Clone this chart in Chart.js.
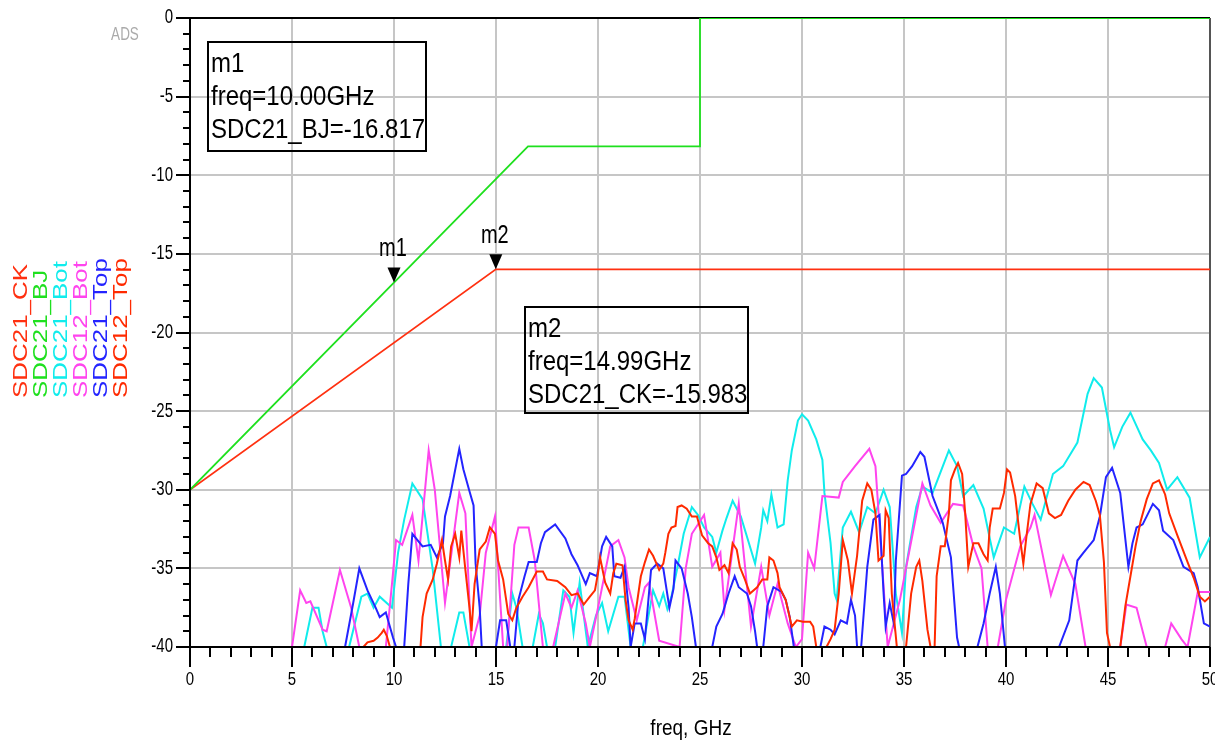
<!DOCTYPE html>
<html>
<head>
<meta charset="utf-8">
<script src="https://cdn.jsdelivr.net/npm/chart.js@4.4.0/dist/chart.umd.min.js"></script>
<style>
  html, body { margin: 0; padding: 0; background: #fff; }
  canvas { display: block; }
</style>
</head>
<body>
<canvas id="c" width="1215" height="743"></canvas>
<script>
// ADS plot: SDC21 / SDC12 vs freq

// ── Data ────────────────────────────────────────────────────────────────
const xTickLabels = ['0', '5', '10', '15', '20', '25', '30', '35', '40', '45', '50'];
const yTickLabels = ['0', '-5', '-10', '-15', '-20', '-25', '-30', '-35', '-40'];

const seriesNames  = ['SDC21_CK', 'SDC21_BJ', 'SDC21_Bot', 'SDC12_Bot', 'SDC21_Top', 'SDC12_Top'];
const seriesColors = ['#ff3010', '#1ee01e', '#10ecec', '#ff44ee', '#2424ff', '#ff2a00'];

// [freq GHz, dB]
const sdc21CK = [[0, -30], [14.99, -15.983], [50, -15.983]];
const sdc21BJ = [[0, -30], [16.57, -8.16], [25, -8.16], [25, 0], [50, 0]];

const sdc21Bot = [
  [0, -40], [5.6, -40], [6.0, -37.5], [6.3, -37.5], [6.5, -39], [6.7, -40], [7.8, -40], [8.4, -36.8],
  [8.7, -36.6], [9.0, -37.5], [9.3, -36.8], [9.9, -37.5], [10.2, -34], [10.5, -31.9], [10.9, -29.6],
  [11.4, -30.6], [11.9, -35.1], [12.3, -40], [12.8, -40], [13.2, -37.8], [13.4, -37.8], [13.7, -40],
  [15.5, -40], [15.8, -36.6], [16.0, -37.5], [16.3, -40], [16.8, -40], [17.1, -37.9], [17.3, -38.5],
  [17.5, -40], [17.9, -40], [18.3, -36.4], [18.6, -36.8], [18.8, -39.1], [19.1, -35.9], [19.5, -40],
  [19.9, -38], [20.2, -37.2], [20.5, -39], [21.0, -36.8], [21.3, -36.8], [21.6, -40], [22.2, -40],
  [22.7, -36.4], [23.0, -37.4], [23.2, -36.6], [23.4, -37.6], [23.6, -36.8], [23.9, -34.9], [24.2, -32.8],
  [24.6, -31.1], [24.9, -31.6], [25.2, -32.4], [25.6, -33], [25.8, -34], [26.1, -32.6], [26.3, -31.8],
  [26.6, -30.7], [27.0, -31.7], [27.4, -33.4], [27.7, -34.7], [28.0, -32.4], [28.1, -31.3], [28.3, -32],
  [28.5, -30.3], [28.8, -32.4], [29.1, -32.2], [29.3, -29.4], [29.5, -27.5], [29.8, -25.6], [30.0, -25.2],
  [30.3, -25.6], [30.7, -26.8], [31.0, -28.1], [31.1, -30.2], [31.4, -33.4], [31.6, -36.6], [31.7, -37],
  [32.0, -32.4], [32.4, -31.4], [32.8, -32.7], [33.2, -31.1], [33.6, -31.5], [34.0, -30], [34.3, -31.1],
  [34.6, -36.6], [34.9, -39.1], [35.1, -34.9], [35.6, -31.1], [35.9, -29.8], [36.4, -30.2], [37.2, -27.5],
  [37.6, -28.5], [37.9, -30.4], [38.4, -29.7], [38.9, -31.2], [39.4, -34.3], [39.9, -32.4], [40.4, -32.8],
  [40.9, -29.8], [41.3, -30.9], [41.7, -31.9], [42.3, -29], [42.8, -28.5], [43.5, -27], [44.0, -23.9],
  [44.3, -22.9], [44.7, -23.5], [45.1, -26.2], [45.3, -27.3], [45.7, -26], [46.1, -25.1], [46.7, -26.8],
  [47.1, -27.5], [47.5, -28.3], [47.9, -30], [48.4, -29.2], [49.0, -30.5], [49.5, -34.3], [50, -33]
];

const sdc12Bot = [
  [0, -40], [5.0, -40], [5.4, -36.4], [5.7, -37.2], [5.9, -37.1], [6.5, -38.9], [6.7, -39], [7.35, -35.1],
  [7.9, -37.5], [8.3, -40], [9.6, -40], [9.9, -36], [10.1, -33.2], [10.4, -33.5], [10.9, -31.6], [11.2, -34.5],
  [11.7, -27.5], [12.0, -30], [12.5, -37.2], [13.2, -30.2], [13.5, -31.5], [13.8, -40], [14.2, -38],
  [14.5, -34], [14.95, -31.7], [15.35, -40], [15.55, -40], [15.9, -33.5], [16.1, -32.4], [16.6, -32.4],
  [16.9, -34.5], [17.3, -40], [17.8, -40], [18.4, -36.6], [18.7, -37.5], [19.0, -36.4], [19.4, -38.5],
  [19.6, -40], [20.0, -37.5], [20.6, -33.6], [21.0, -33.2], [21.3, -34.3], [21.5, -36.2], [21.9, -38.3],
  [22.3, -36.2], [22.5, -35.9], [23.0, -39.6], [24.0, -40], [24.3, -35], [24.6, -32.8], [25.2, -31.6],
  [25.6, -34.9], [26.0, -34], [26.2, -37.6], [26.9, -30.9], [27.5, -38.7], [28.0, -34.9], [28.4, -38],
  [28.8, -36], [29.3, -38.5], [29.7, -40], [30.0, -39.5], [30.3, -34], [30.6, -35], [31.0, -30.4],
  [31.8, -30.5], [32.0, -29.5], [32.6, -28.5], [33.3, -27.4], [33.6, -28.5], [34.2, -40], [34.8, -37],
  [35.9, -29.6], [36.3, -31], [36.8, -32.1], [37.4, -30.9], [37.9, -31], [38.4, -33.6], [38.8, -35],
  [39.1, -40], [39.6, -40], [40.0, -37], [40.7, -33.6], [41.2, -32.4], [41.4, -31.6], [42.2, -36.7],
  [42.8, -34.2], [43.4, -36], [43.9, -40], [45.6, -40], [45.9, -37.3], [46.4, -37.5], [46.9, -40],
  [47.8, -40], [48.1, -38.5], [48.6, -39.5], [48.9, -40], [49.4, -36.5], [50, -36.5]
];

const sdc21Top = [
  [0, -40], [7.6, -40], [8.0, -37.2], [8.3, -35], [8.7, -36.4], [9.1, -37.5], [9.3, -38.1], [9.6, -37.8],
  [9.95, -39.4], [10.1, -40], [10.5, -40], [10.7, -36], [10.9, -32.8], [11.4, -33.6], [11.8, -33.5],
  [12.1, -34.3], [12.4, -33.4], [12.5, -31.7], [12.75, -30.4], [13.2, -27.4], [13.4, -28.7], [13.7, -30.1],
  [13.9, -31], [14.0, -34.7], [14.2, -37.5], [14.3, -40], [15.0, -40], [15.2, -38.3], [15.5, -38.3],
  [15.7, -40], [15.9, -40], [16.1, -37], [16.4, -35.5], [16.6, -34.6], [17.0, -34.6], [17.2, -33.4],
  [17.4, -32.7], [17.9, -32.2], [18.4, -33.1], [18.7, -34.1], [19.0, -34.8], [19.4, -36], [19.6, -35.3],
  [19.95, -35.5], [20.2, -33.6], [20.4, -33], [20.7, -33.6], [20.8, -35.5], [21.1, -35.6], [21.3, -34.9],
  [21.5, -37.5], [21.6, -40], [21.8, -38.5], [22.1, -38.5], [22.3, -39.5], [22.6, -35.1], [22.9, -34.7],
  [23.2, -35], [23.5, -37.5], [23.7, -36.3], [23.8, -34.5], [24.1, -35], [24.4, -36.6], [24.6, -38.1],
  [24.8, -40], [25.6, -40], [25.8, -38.7], [26.1, -37.9], [26.4, -36.6], [26.7, -35.5], [26.9, -36.2],
  [27.3, -36.6], [27.5, -37.4], [27.7, -39], [27.8, -40], [28.1, -40], [28.3, -37.4], [28.6, -36.2],
  [29.0, -36.5], [29.2, -37], [29.4, -38.1], [29.6, -40], [30.9, -40], [31.1, -38.7], [31.4, -38.9],
  [31.6, -39.2], [31.9, -38.3], [32.2, -38.5], [32.4, -37], [32.6, -38], [32.7, -40], [32.9, -40],
  [33.2, -34.9], [33.5, -31.9], [33.8, -31.6], [34.0, -36.6], [34.1, -38.7], [34.3, -37.2], [34.5, -38.5],
  [34.6, -34.5], [34.9, -29.1], [35.1, -29], [35.4, -28.5], [35.8, -27.6], [36.0, -27.9], [36.4, -30.4],
  [36.9, -32.1], [37.3, -34.3], [37.6, -39.4], [37.7, -40], [38.6, -40], [38.9, -38.5], [39.2, -36.6],
  [39.5, -34.9], [39.7, -36.6], [39.95, -40], [42.6, -40], [43.1, -38.3], [43.5, -34.5], [43.8, -34],
  [44.3, -33.2], [44.6, -31.7], [44.9, -29.2], [45.2, -28.6], [45.6, -30.2], [46.0, -34.9], [46.2, -33.4],
  [46.4, -32.4], [46.7, -32.2], [47.2, -30.9], [47.5, -31.3], [47.7, -32.6], [48.2, -33.2], [48.7, -34.9],
  [49.2, -35.3], [49.4, -36.2], [49.7, -38.5], [50, -38.7]
];

const sdc12Top = [
  [0, -40], [8.5, -40], [8.7, -39.7], [9.0, -39.6], [9.2, -39.4], [9.4, -39.1], [9.5, -38.9], [9.65, -39.3],
  [9.8, -40], [11.3, -40], [11.4, -38.1], [11.6, -36.6], [11.9, -35.7], [12.1, -34.7], [12.35, -33.2],
  [12.5, -34.5], [12.65, -35.7], [12.8, -33.6], [13.0, -32.8], [13.2, -34.3], [13.3, -32.6], [13.5, -35.1],
  [13.7, -37.5], [13.8, -39], [13.95, -36], [14.2, -33.8], [14.5, -33.3], [14.7, -32.4], [14.95, -32.8],
  [15.1, -34.5], [15.35, -35.7], [15.6, -37.9], [15.8, -38.3], [16.0, -37.5], [16.3, -36.8], [16.6, -36.2],
  [17.0, -35.2], [17.3, -35.2], [17.5, -35.7], [18.0, -35.8], [18.4, -36.2], [18.7, -36.7], [19.0, -36.6],
  [19.3, -37.3], [19.6, -36.8], [19.85, -36.4], [20.0, -35.3], [20.1, -34.3], [20.35, -35.9], [20.6, -36.6],
  [20.75, -35.3], [20.9, -34.7], [21.2, -34.8], [21.35, -37], [21.5, -38.3], [21.7, -38.9], [21.8, -38.2],
  [22.1, -35.5], [22.3, -34.6], [22.5, -33.8], [22.7, -34.2], [23.0, -35.1], [23.2, -34.7], [23.3, -34],
  [23.45, -32.8], [23.6, -32.4], [23.8, -32.3], [23.9, -31.1], [24.1, -31], [24.35, -31.2], [24.6, -31.7],
  [24.85, -31.7], [25.1, -32.9], [25.4, -33.4], [25.6, -33.6], [25.8, -34.3], [25.95, -35.1], [26.2, -34.8],
  [26.4, -35.3], [26.6, -33.4], [26.8, -33.8], [26.95, -34.9], [27.2, -35.7], [27.45, -36.6], [27.8, -36.2],
  [28.05, -35.7], [28.3, -35.7], [28.4, -34.3], [28.6, -34.5], [28.8, -35.3], [28.9, -36.2], [29.2, -37],
  [29.5, -38.7], [29.75, -38.3], [30.05, -38.4], [30.4, -38.4], [30.55, -38.7], [30.7, -40], [31.2, -40],
  [31.4, -39.5], [31.6, -38.9], [31.8, -36.6], [32.0, -33.2], [32.25, -34.5], [32.45, -36.6], [32.7, -34.2],
  [32.95, -30.7], [33.2, -29.6], [33.4, -30], [33.6, -31.5], [33.75, -34.5], [34.0, -34.2], [34.1, -31.3],
  [34.25, -31.8], [34.4, -36.6], [34.65, -40], [35.1, -40], [35.35, -36.6], [35.6, -34.9], [35.75, -34.5],
  [35.9, -35.8], [36.15, -38.9], [36.3, -40], [36.5, -40], [36.6, -35.5], [36.8, -33.6], [37.0, -33.6],
  [37.2, -31.5], [37.3, -29.4], [37.5, -28.7], [37.65, -28.3], [37.85, -29], [38.0, -31.5], [38.15, -34.9],
  [38.4, -33.4], [38.65, -33.4], [38.9, -34.1], [39.1, -34.5], [39.2, -32.4], [39.35, -31.2], [39.7, -31.2],
  [39.9, -30.2], [40.05, -28.7], [40.2, -28.9], [40.45, -30.4], [40.7, -33.2], [40.85, -34.7], [41.0, -33],
  [41.2, -30.9], [41.5, -29.6], [41.8, -29.9], [42.1, -31.5], [42.4, -31.8], [42.7, -31.6], [43.05, -30.7],
  [43.4, -30], [43.8, -29.5], [44.1, -29.7], [44.4, -30.7], [44.6, -31.6], [44.8, -34.6], [44.95, -39.1],
  [45.1, -40], [45.6, -40], [45.85, -37.4], [46.1, -35.5], [46.35, -33.6], [46.6, -32], [46.9, -30.6],
  [47.2, -29.6], [47.5, -29.4], [47.8, -30.3], [48.0, -31.5], [48.4, -32.9], [48.9, -34.6], [49.2, -35.6],
  [49.5, -36.8], [49.75, -37.1], [50, -36.8]
];

// markers: m1 on SDC21_BJ, m2 on SDC21_CK
const markerNames  = ['m1', 'm2'];
const markerFreq   = [10.00, 14.99];
const markerValue  = [-16.817, -15.983];
const markerSeries = ['SDC21_BJ', 'SDC21_CK'];

// ── Helpers ─────────────────────────────────────────────────────────────
const FONT = "'Liberation Sans', Arial, sans-serif";

function text(ctx, str, x, y, size, opts) {
  opts = opts || {};
  ctx.save();
  ctx.translate(x, y);
  if (opts.rotate) ctx.rotate(opts.rotate);
  ctx.scale(opts.sx || 1, opts.sy || 1);
  ctx.font = size + 'px ' + FONT;
  ctx.fillStyle = opts.color || '#000';
  ctx.textAlign = opts.align || 'left';
  ctx.textBaseline = opts.baseline || 'alphabetic';
  ctx.fillText(str, 0, 0);
  ctx.restore();
}

function line(ctx, x1, y1, x2, y2, color, w) {
  ctx.beginPath();
  ctx.moveTo(x1, y1);
  ctx.lineTo(x2, y2);
  ctx.strokeStyle = color;
  ctx.lineWidth = w;
  ctx.stroke();
}

const toXY = arr => arr.map(p => ({ x: p[0], y: p[1] }));

// ── Plugin: frame, ticks, labels, markers, legend ──────────────────────
const adsPlot = {
  id: 'adsPlot',
  beforeDatasetsDraw(chart) {
    const { ctx, chartArea: a } = chart;
    ctx.save();
    line(ctx, a.left, a.top, a.right, a.top, '#000', 2);
    line(ctx, a.right, a.top, a.right, a.bottom, '#555', 2);
    ctx.restore();
  },
  afterDatasetsDraw(chart) {
    const { ctx, chartArea: a, scales: { x, y } } = chart;
    ctx.save();

    // axes
    line(ctx, a.left, a.top - 1, a.left, a.bottom + 1, '#000', 2);
    line(ctx, a.left - 1, a.bottom, a.right, a.bottom, '#000', 2);

    // minor + major ticks
    for (let f = 0; f <= 50; f++) {
      const px = Math.round(x.getPixelForValue(f));
      const len = f % 5 === 0 ? 20 : 10;
      line(ctx, px, a.bottom, px, a.bottom + len, '#000', 2);
    }
    for (let v = 0; v >= -40; v--) {
      const py = Math.round(y.getPixelForValue(v));
      const len = v % 5 === 0 ? 14 : 7;
      line(ctx, a.left - len, py, a.left, py, '#000', 2);
    }

    // tick labels
    xTickLabels.forEach(l => {
      text(ctx, l, x.getPixelForValue(Number(l)), 680, 15, { align: 'center', baseline: 'middle', sy: 1.25 });
    });
    yTickLabels.forEach(l => {
      text(ctx, l, a.left - 17, y.getPixelForValue(Number(l)), 15, { align: 'right', baseline: 'middle', sy: 1.3 });
    });

    // axis title + ADS tag
    text(ctx, 'freq, GHz', (a.left + a.right) / 2 - 9, 735, 19, { align: 'center', sy: 1.15 });
    text(ctx, 'ADS', 125, 40, 13.5, { align: 'center', sy: 1.35, color: '#aaa' });

    // legend, vertical labels
    chart.data.datasets.slice().reverse().forEach((ds, i) => {
      text(ctx, ds.label, 22 + i * 20, 398, 19.5, {
        rotate: -Math.PI / 2, sx: 1.33, baseline: 'middle', color: ds.borderColor
      });
    });

    // markers
    const boxes = [
      { left: a.left + 18, top: a.top + 24, w: 218, h: 109 },
      { left: a.left + 335, top: a.top + 289, w: 223, h: 106 }
    ];
    markerNames.forEach((m, i) => {
      const px = x.getPixelForValue(markerFreq[i]);
      const py = y.getPixelForValue(markerValue[i]);
      ctx.beginPath();
      ctx.moveTo(px, py);
      ctx.lineTo(px - 6.5, py - 15);
      ctx.lineTo(px + 6.5, py - 15);
      ctx.closePath();
      ctx.fillStyle = '#000';
      ctx.fill();
      text(ctx, m, px - 1, py - 26, 20, { align: 'center', sy: 1.25 });

      const b = boxes[i];
      ctx.strokeStyle = '#000';
      ctx.lineWidth = 2;
      ctx.strokeRect(b.left, b.top, b.w, b.h);
      const lines = [
        m,
        'freq=' + markerFreq[i].toFixed(2) + 'GHz',
        markerSeries[i] + '=' + markerValue[i].toFixed(3)
      ];
      lines.forEach((s, k) => {
        text(ctx, s, b.left + 3, b.top + 30 + k * 33, 24, { sy: 1.15 });
      });
    });

    ctx.restore();
  }
};

// ── Chart ───────────────────────────────────────────────────────────────
// dataset 0 is painted last in Chart.js, so keep ADS order reversed
const seriesData = [sdc21CK, sdc21BJ, sdc21Bot, sdc12Bot, sdc21Top, sdc12Top];
const datasets = seriesNames.map((name, i) => ({
  label: name,
  data: toXY(seriesData[i]),
  borderColor: seriesColors[i],
  borderWidth: i < 2 ? 1.8 : 2,
  pointRadius: 0,
  tension: 0,
  fill: false
})).reverse();

new Chart(document.getElementById('c'), {
  type: 'line',
  data: { datasets },
  options: {
    responsive: false,
    animation: false,
    events: [],
    layout: { padding: { top: 18, right: 5, left: 0, bottom: 0 } },
    plugins: { legend: { display: false }, tooltip: { enabled: false } },
    scales: {
      x: {
        type: 'linear', min: 0, max: 50,
        ticks: { display: false, stepSize: 5 },
        grid: { color: '#c6c6c6', lineWidth: 2, drawTicks: false },
        border: { display: false },
        afterFit: s => { s.height = 96; }
      },
      y: {
        type: 'linear', min: -40, max: 0,
        ticks: { display: false, stepSize: 5 },
        grid: { color: '#c6c6c6', lineWidth: 2, drawTicks: false },
        border: { display: false },
        afterFit: s => { s.width = 190; }
      }
    }
  },
  plugins: [adsPlot]
});
</script>
</body>
</html>
